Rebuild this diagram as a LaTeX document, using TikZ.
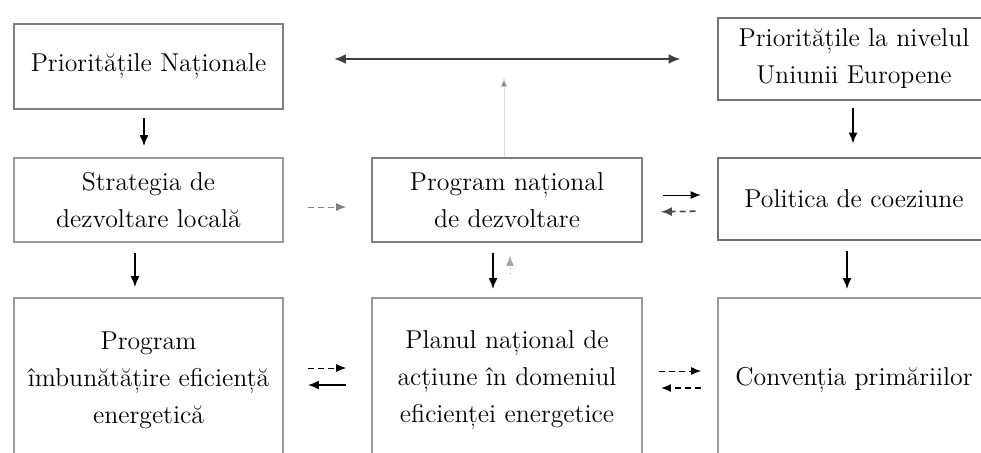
\documentclass[tikz,border=0pt]{standalone}
\usepackage{fontspec}
\usepackage{tikz}
\usetikzlibrary{arrows.meta,positioning}
\tikzset{
        box/.style={draw=gray, line width=0.9pt, inner sep=0pt, align=center,
            font=\fontsize{12.9}{18.5}\selectfont},
        colleft/.style={box, minimum width=134.5pt},
        colmid/.style={box, minimum width=135pt},
        colright/.style={box, minimum width=136pt},
        heavy/.style={draw=black!55, line width=1.4pt},
        flow/.style={line width=0.9pt, -{Latex[length=5.5pt,width=4.5pt]}},
        thinflow/.style={line width=0.5pt, -{Latex[length=5pt,width=4pt]}},
        faint/.style={line width=0.5pt, densely dashed, -{Latex[length=5pt,width=4pt]}},
    }
\begin{document}
\begin{tikzpicture}[x = 0.5pt, y = -0.5pt]
                \useasboundingbox (0,0) rectangle (981,452);
                \clip (0,0) rectangle (981,452);
                % top row
                \node[colleft, minimum height=42.5pt] (prio) at (148.5,66.5) {Prioritățile Naționale};
                \node[colright, heavy, minimum height=41pt] (eu) at (854,59) {Prioritățile la nivelul\\Uniunii Europene};
                % middle row
                \node[colleft, draw=gray!80, minimum height=42pt] (strat) at (148.5,200) {Strategia de\\dezvoltare locală};
                \node[colmid, minimum height=42pt] (pnd) at (507,200) {Program național\\de dezvoltare};
                \node[colright, heavy, minimum height=41pt] (pol) at (854,199) {Politica de coeziune};
                % bottom row
                \foreach \n/\c/\x/\t in {pie/colleft/148.5/{Program\\îmbunătățire eficiență\\energetică},
                                         pna/colmid/507/{Planul național de\\acțiune în domeniul\\eficienței energetice},
                                         conv/colright/854/{Convenția primăriilor}}
                {
                    \node[\c, draw=gray!80, minimum height=82pt] (\n) at (\x,380) {\t};
                }
                % links
                \draw[flow, line width=1.2pt, {Latex[length=6pt,width=5pt]}-{Latex[length=6pt,width=5pt]}, black!75]
                    ([xshift=25pt]prio.east |- eu.west) -- ([xshift=-18pt]eu.west);
                \draw[thinflow, gray!30, -{Latex[length=5pt,width=4pt,fill=gray]}] ([xshift=-1.5pt]pnd.north) -- ++(0,-80);
                \draw[flow, shorten <=4pt, shorten >=5.5pt] ([xshift=-2.25pt]prio.south) -- ([xshift=-2.25pt]strat.north);
                \draw[flow, shorten <=3.5pt, shorten >=6.5pt] ([xshift=-0.5pt]eu.south) -- ([xshift=-0.5pt]pol.north);
                \draw[faint, gray, shorten <=12pt, shorten >=12.5pt] ([yshift=-3.5pt]strat.east) -- ([yshift=-3.5pt]pnd.west);
                \draw[thinflow, shorten <=10pt, shorten >=8pt] ([yshift=2.5pt]pnd.east) -- ([yshift=2pt]pol.west);
                \draw[flow, black!70, densely dashed, shorten <=10.5pt, shorten >=9pt] ([yshift=-6pt]pol.west) -- ([yshift=-6pt]pnd.east);
                \draw[flow, shorten <=5pt, shorten >=5pt] ([xshift=-6.75pt]strat.south) -- ([xshift=-6.75pt]pie.north);
                \draw[flow, shorten <=5pt, shorten >=4pt] ([xshift=-7pt]pnd.south) -- ([xshift=-7pt]pna.north);
                \draw[faint, gray!70, dotted, shorten <=11.5pt, shorten >=6.5pt] ([xshift=1.5pt]pna.north) -- ([xshift=1.5pt]pnd.south);
                \draw[flow, shorten <=5pt, shorten >=4pt] ([xshift=-3.5pt]pol.south) -- ([xshift=-3.5pt]conv.north);
                \draw[faint, shorten <=12pt, shorten >=12.5pt] ([yshift=6pt]pie.east) -- ([yshift=6pt]pna.west);
                \draw[flow, shorten <=12.5pt, shorten >=12pt] ([yshift=-2.5pt]pna.west) -- ([yshift=-2.5pt]pie.east);
                \draw[faint, shorten <=8pt, shorten >=8pt] ([yshift=4.5pt]pna.east) -- ([yshift=4.5pt]conv.west);
                \draw[faint, line width=0.8pt, shorten <=8pt, shorten >=9pt] ([yshift=-4pt]conv.west) -- ([yshift=-4pt]pna.east);
            \end{tikzpicture}
\end{document}
